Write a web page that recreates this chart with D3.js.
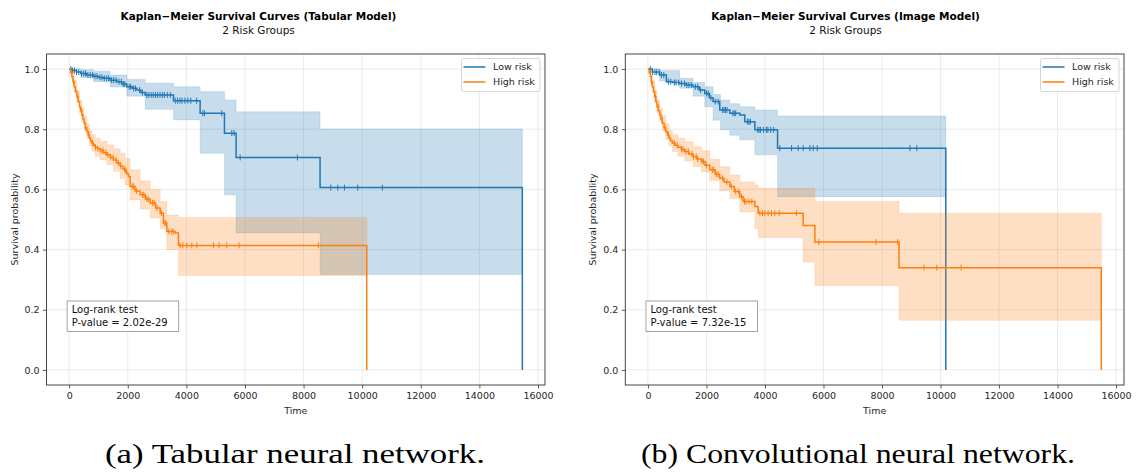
<!DOCTYPE html>
<html lang="en">
<head>
<meta charset="utf-8">
<title>Kaplan-Meier Survival Curves</title>
<script src="https://d3js.org/d3.v7.min.js"></script>
<style>
  body { margin: 0; padding: 0; background: #fff; }
  svg { display: block; font-family: 'DejaVu Sans', sans-serif; }
  .tick-label { font-size: 9.5px; fill: #262626; }
  .grid line { stroke: #b0b0b0; stroke-opacity: 0.3; stroke-width: 0.8; }
  .caption { font-family: 'Liberation Serif', 'DejaVu Serif', serif; font-size: 27px; fill: #000; }
</style>
</head>
<body>
<script>
// ---- axis ticks ----
var xTicks = [0, 2000, 4000, 6000, 8000, 10000, 12000, 14000, 16000];
var yTicks = [0.0, 0.2, 0.4, 0.6, 0.8, 1.0];

// ---- (a) tabular model ----
var tabLowT = [0, 100, 250, 400, 600, 830, 1000, 1170, 1400, 1627, 1800, 1968, 2150, 2310, 2450, 2593, 3560, 4470, 5300, 5698, 8563, 15466, 15466];
var tabLowS = [1.0, 0.995, 0.99, 0.985, 0.98, 0.976, 0.972, 0.969, 0.963, 0.958, 0.95, 0.941, 0.936, 0.930, 0.922, 0.914, 0.895, 0.853, 0.787, 0.706, 0.606, 0.606, 0];
var tabLowBandT  = [0, 400, 830, 1400, 1968, 2593, 3560, 4470, 5300, 5698, 8563, 15466];
var tabLowBandHi = [1.0, 0.998, 0.993, 0.98, 0.965, 0.953, 0.941, 0.925, 0.897, 0.858, 0.801, 0.801];
var tabLowBandLo = [1.0, 0.972, 0.958, 0.94, 0.91, 0.866, 0.831, 0.72, 0.582, 0.455, 0.317, 0.317];
var tabLowCens = [60, 120, 180, 250, 330, 420, 500, 560, 640, 720, 800, 880, 950, 1050, 1120, 1200, 1280, 1350, 1450, 1520, 1600, 1700, 1780, 1850, 1900, 2050, 2100, 2200, 2260, 2400, 2500, 2650, 2720, 2800, 2870, 2950, 3020, 3100, 3180, 3250, 3350, 3450, 3620, 3700, 3780, 3850, 3950, 4050, 4150, 4350, 4560, 4620, 5209, 5550, 5630, 5835, 7790, 8928, 9168, 9394, 9850, 10690];

var tabHighT = [0, 45, 90, 130, 170, 215, 262, 305, 352, 390, 432, 470, 512, 555, 603, 650, 694, 735, 774, 830, 887, 970, 1058, 1170, 1285, 1400, 1511, 1620, 1740, 1830, 1910, 1968, 2023, 2081, 2250, 2422, 2600, 2764, 2950, 3105, 3218, 3333, 3617, 3730, 10156, 10156];
var tabHighS = [1.0, 0.988, 0.975, 0.958, 0.941, 0.925, 0.908, 0.892, 0.875, 0.861, 0.847, 0.834, 0.82, 0.806, 0.792, 0.781, 0.770, 0.762, 0.754, 0.747, 0.740, 0.735, 0.729, 0.722, 0.715, 0.706, 0.698, 0.688, 0.678, 0.668, 0.659, 0.652, 0.643, 0.61, 0.595, 0.582, 0.568, 0.555, 0.538, 0.521, 0.488, 0.46, 0.455, 0.414, 0.414, 0];
var tabHighBandT  = [0, 90, 170, 262, 352, 432, 512, 603, 694, 774, 887, 1058, 1285, 1511, 1740, 1910, 2081, 2422, 2764, 3105, 3333, 3730, 10156];
var tabHighBandHi = [1.0, 0.99, 0.962, 0.927, 0.896, 0.87, 0.844, 0.816, 0.795, 0.782, 0.77, 0.76, 0.748, 0.735, 0.72, 0.703, 0.665, 0.628, 0.6, 0.56, 0.515, 0.507, 0.507];
var tabHighBandLo = [1.0, 0.96, 0.92, 0.889, 0.854, 0.824, 0.796, 0.768, 0.745, 0.727, 0.71, 0.698, 0.682, 0.66, 0.636, 0.615, 0.565, 0.535, 0.505, 0.47, 0.40, 0.314, 0.314];
var tabHighCens = [150, 300, 420, 560, 680, 800, 900, 980, 1080, 1150, 1250, 1320, 1420, 1500, 1600, 1680, 1760, 1900, 1950, 2150, 2200, 2300, 2500, 2550, 2650, 2700, 2850, 2900, 3000, 3150, 3250, 3300, 3400, 3500, 3550, 3787, 3879, 4015, 4186, 4357, 4924, 5119, 5380, 5800, 8506];

// ---- (b) image model ----
var imgLowT = [0, 150, 400, 629, 850, 1085, 1300, 1540, 1750, 1940, 2100, 2225, 2454, 2797, 3140, 3310, 3653, 4430, 10180, 10180];
var imgLowS = [1.0, 0.99, 0.98, 0.958, 0.955, 0.952, 0.947, 0.941, 0.93, 0.919, 0.905, 0.892, 0.864, 0.853, 0.847, 0.825, 0.798, 0.737, 0.737, 0];
var imgLowBandT  = [0, 400, 1085, 1540, 1940, 2225, 2480, 2797, 3140, 3653, 4430, 10180];
var imgLowBandHi = [1.0, 0.995, 0.969, 0.955, 0.941, 0.915, 0.897, 0.885, 0.875, 0.864, 0.844, 0.844];
var imgLowBandLo = [1.0, 0.96, 0.936, 0.91, 0.875, 0.83, 0.798, 0.78, 0.765, 0.715, 0.576, 0.576];
var imgLowCens = [80, 160, 240, 300, 380, 460, 540, 700, 780, 900, 960, 1050, 1150, 1250, 1330, 1400, 1480, 1620, 1700, 1800, 2000, 2060, 2150, 2300, 2400, 2550, 2600, 2650, 2700, 2900, 2950, 3000, 3400, 3450, 3500, 3750, 3800, 3850, 3950, 4050, 4100, 4200, 4300, 4508, 4909, 5135, 5306, 5535, 5649, 5785, 8958, 9188];

var imgHighT = [0, 40, 82, 115, 150, 190, 229, 270, 308, 355, 400, 445, 492, 550, 606, 665, 720, 775, 834, 930, 1027, 1140, 1256, 1400, 1540, 1680, 1827, 1950, 2112, 2300, 2454, 2600, 2797, 2950, 3140, 3252, 3653, 3765, 5306, 5706, 8582, 15497, 15497];
var imgHighS = [1.0, 0.988, 0.975, 0.958, 0.941, 0.925, 0.908, 0.892, 0.875, 0.861, 0.847, 0.834, 0.82, 0.806, 0.792, 0.781, 0.770, 0.762, 0.754, 0.747, 0.740, 0.733, 0.726, 0.718, 0.709, 0.701, 0.693, 0.68, 0.665, 0.65, 0.637, 0.625, 0.61, 0.593, 0.576, 0.56, 0.543, 0.521, 0.48, 0.425, 0.34, 0.34, 0];
var imgHighBandT  = [0, 82, 150, 229, 308, 400, 492, 606, 720, 834, 1027, 1256, 1540, 1827, 2112, 2454, 2797, 3140, 3652, 3765, 5306, 5706, 8582, 15497];
var imgHighBandHi = [1.0, 0.99, 0.962, 0.928, 0.897, 0.87, 0.845, 0.818, 0.796, 0.782, 0.77, 0.758, 0.742, 0.728, 0.70, 0.675, 0.648, 0.625, 0.615, 0.604, 0.604, 0.56, 0.521, 0.521];
var imgHighBandLo = [1.0, 0.96, 0.92, 0.888, 0.853, 0.824, 0.795, 0.766, 0.744, 0.726, 0.71, 0.694, 0.676, 0.658, 0.63, 0.595, 0.57, 0.525, 0.47, 0.44, 0.359, 0.281, 0.165, 0.165];
var imgHighCens = [120, 250, 350, 480, 580, 700, 900, 1000, 1150, 1200, 1300, 1380, 1500, 1550, 1650, 1700, 1850, 1900, 2000, 2200, 2250, 2350, 2400, 2550, 2700, 2850, 3000, 3100, 3200, 3300, 3350, 3450, 3550, 3824, 3915, 3995, 4108, 4224, 4337, 4484, 5080, 5843, 7795, 8536, 9438, 9872, 10704];

var seriesNames = ["Low risk", "High risk"];
var colors = ["#1f77b4", "#ff7f0e"];

var svg = d3.select("body").append("svg")
    .attr("width", 1138)
    .attr("height", 473);

// value of a step curve at time t
function stepAt(T, S, t) {
    var i = d3.bisectRight(T, t) - 1;
    return S[Math.max(0, i)];
}

function drawPanel(p) {
    var g = svg.append("g");
    var tMax = d3.max(p.groups, function(d) { return d3.max(d.T); });
    var pad = tMax * 0.05;

    var x = d3.scaleLinear().domain([-pad, tMax + pad]).range([p.left, p.right]);
    var y = d3.scaleLinear().domain([-0.05, 1.05]).range([p.bottom, p.top]);

    // titles
    g.append("text").attr("x", p.titleX).attr("y", 20)
        .attr("text-anchor", "middle").style("font-size", "10.5px").style("font-weight", "bold")
        .text(p.title);
    g.append("text").attr("x", p.titleX).attr("y", 34)
        .attr("text-anchor", "middle").style("font-size", "10.5px").attr("fill", "#111")
        .text("2 Risk Groups");

    // grid
    var grid = g.append("g").attr("class", "grid");
    grid.selectAll(".gx").data(xTicks).enter().append("line")
        .attr("x1", function(d) { return x(d); }).attr("x2", function(d) { return x(d); })
        .attr("y1", p.top).attr("y2", p.bottom);
    grid.selectAll(".gy").data(yTicks).enter().append("line")
        .attr("y1", function(d) { return y(d); }).attr("y2", function(d) { return y(d); })
        .attr("x1", p.left).attr("x2", p.right);

    var plot = g.append("g");

    p.groups.forEach(function(grp, k) {
        var band = d3.area()
            .curve(d3.curveStepAfter)
            .x(function(d, i) { return x(grp.BT[i]); })
            .y0(function(d, i) { return y(grp.BLo[i]); })
            .y1(function(d, i) { return y(grp.BHi[i]); });
        plot.append("path")
            .datum(grp.BT)
            .attr("d", band)
            .attr("fill", colors[k]).attr("fill-opacity", 0.25)
            .attr("stroke", colors[k]).attr("stroke-opacity", 0.15).attr("stroke-width", 1);

        var line = d3.line()
            .curve(d3.curveStepAfter)
            .x(function(d, i) { return x(grp.T[i]); })
            .y(function(d, i) { return y(grp.S[i]); });
        plot.append("path")
            .datum(grp.T)
            .attr("d", line)
            .attr("fill", "none").attr("stroke", colors[k]).attr("stroke-width", 1.5);

        // censoring ticks
        plot.selectAll(".cens" + k).data(grp.C).enter().append("line")
            .attr("x1", function(d) { return x(d); }).attr("x2", function(d) { return x(d); })
            .attr("y1", function(d) { return y(stepAt(grp.T, grp.S, d)) - 3; })
            .attr("y2", function(d) { return y(stepAt(grp.T, grp.S, d)) + 3; })
            .attr("stroke", colors[k]).attr("stroke-width", 1);
    });

    // axes
    var xAxis = g.append("g").attr("transform", "translate(0," + p.bottom + ")")
        .call(d3.axisBottom(x).tickValues(xTicks).tickSize(3.5).tickPadding(3.5).tickFormat(d3.format("d")));
    var yAxis = g.append("g").attr("transform", "translate(" + p.left + ",0)")
        .call(d3.axisLeft(y).tickValues(yTicks).tickSize(3.5).tickPadding(3.5).tickFormat(d3.format(".1f")));
    [xAxis, yAxis].forEach(function(a) {
        a.select(".domain").remove();
        a.selectAll("line").attr("stroke", "#333").attr("stroke-width", 0.8);
        a.selectAll("text").attr("class", "tick-label").style("font-family", "'DejaVu Sans', sans-serif");
    });

    // frame
    g.append("rect")
        .attr("x", p.left).attr("y", p.top)
        .attr("width", p.right - p.left).attr("height", p.bottom - p.top)
        .attr("fill", "none").attr("stroke", "#333").attr("stroke-width", 0.9);

    // axis labels
    g.append("text").attr("x", (p.left + p.right) / 2).attr("y", 414)
        .attr("text-anchor", "middle").style("font-size", "9.5px").attr("fill", "#262626")
        .text("Time");
    g.append("text")
        .attr("transform", "translate(" + (p.left - 29) + "," + ((p.top + p.bottom) / 2) + ") rotate(-90)")
        .attr("text-anchor", "middle").style("font-size", "9.5px").attr("fill", "#262626")
        .text("Survival probability");

    // legend
    var lg = g.append("g").attr("transform", "translate(" + (p.right - 83.5) + "," + 58.5 + ")");
    lg.append("rect").attr("width", 78.5).attr("height", 33).attr("rx", 2)
        .attr("fill", "#fff").attr("fill-opacity", 0.8).attr("stroke", "#ccc").attr("stroke-width", 0.8);
    seriesNames.forEach(function(n, k) {
        var yy = 8.5 + k * 15;
        lg.append("line").attr("x1", 2).attr("x2", 24).attr("y1", yy).attr("y2", yy)
            .attr("stroke", colors[k]).attr("stroke-width", 1.5);
        lg.append("text").attr("x", 31.5).attr("y", yy + 3.4)
            .style("font-size", "9.5px").attr("fill", "#262626").text(n);
    });

    // log-rank box
    var bx = g.append("g").attr("transform", "translate(" + (x(0) - 2) + ",301)");
    bx.append("rect").attr("width", 111.5).attr("height", 30.5)
        .attr("fill", "#fff").attr("stroke", "#999").attr("stroke-width", 0.9);
    bx.append("text").attr("x", 4.5).attr("y", 12)
        .style("font-size", "10px").attr("fill", "#111").text("Log-rank test");
    bx.append("text").attr("x", 4.5).attr("y", 25)
        .style("font-size", "10px").attr("fill", "#111").text("P-value = " + p.pval);

    // caption
    svg.append("text").attr("class", "caption")
        .attr("x", p.capX).attr("y", 463).attr("text-anchor", "middle")
        .attr("textLength", p.capW).attr("lengthAdjust", "spacingAndGlyphs")
        .text(p.caption);
}

drawPanel({
    left: 46.5, right: 545, top: 54, bottom: 385,
    titleX: 258.5,
    title: "Kaplan\u2212Meier Survival Curves (Tabular Model)",
    pval: "2.02e-29",
    caption: "(a) Tabular neural network.", capX: 295, capW: 380,
    groups: [
        { T: tabLowT, S: tabLowS, BT: tabLowBandT, BLo: tabLowBandLo, BHi: tabLowBandHi, C: tabLowCens },
        { T: tabHighT, S: tabHighS, BT: tabHighBandT, BLo: tabHighBandLo, BHi: tabHighBandHi, C: tabHighCens }
    ]
});

drawPanel({
    left: 625.3, right: 1124, top: 54, bottom: 385,
    titleX: 845.5,
    title: "Kaplan\u2212Meier Survival Curves (Image Model)",
    pval: "7.32e-15",
    caption: "(b) Convolutional neural network.", capX: 858, capW: 434,
    groups: [
        { T: imgLowT, S: imgLowS, BT: imgLowBandT, BLo: imgLowBandLo, BHi: imgLowBandHi, C: imgLowCens },
        { T: imgHighT, S: imgHighS, BT: imgHighBandT, BLo: imgHighBandLo, BHi: imgHighBandHi, C: imgHighCens }
    ]
});
</script>
</body>
</html>
